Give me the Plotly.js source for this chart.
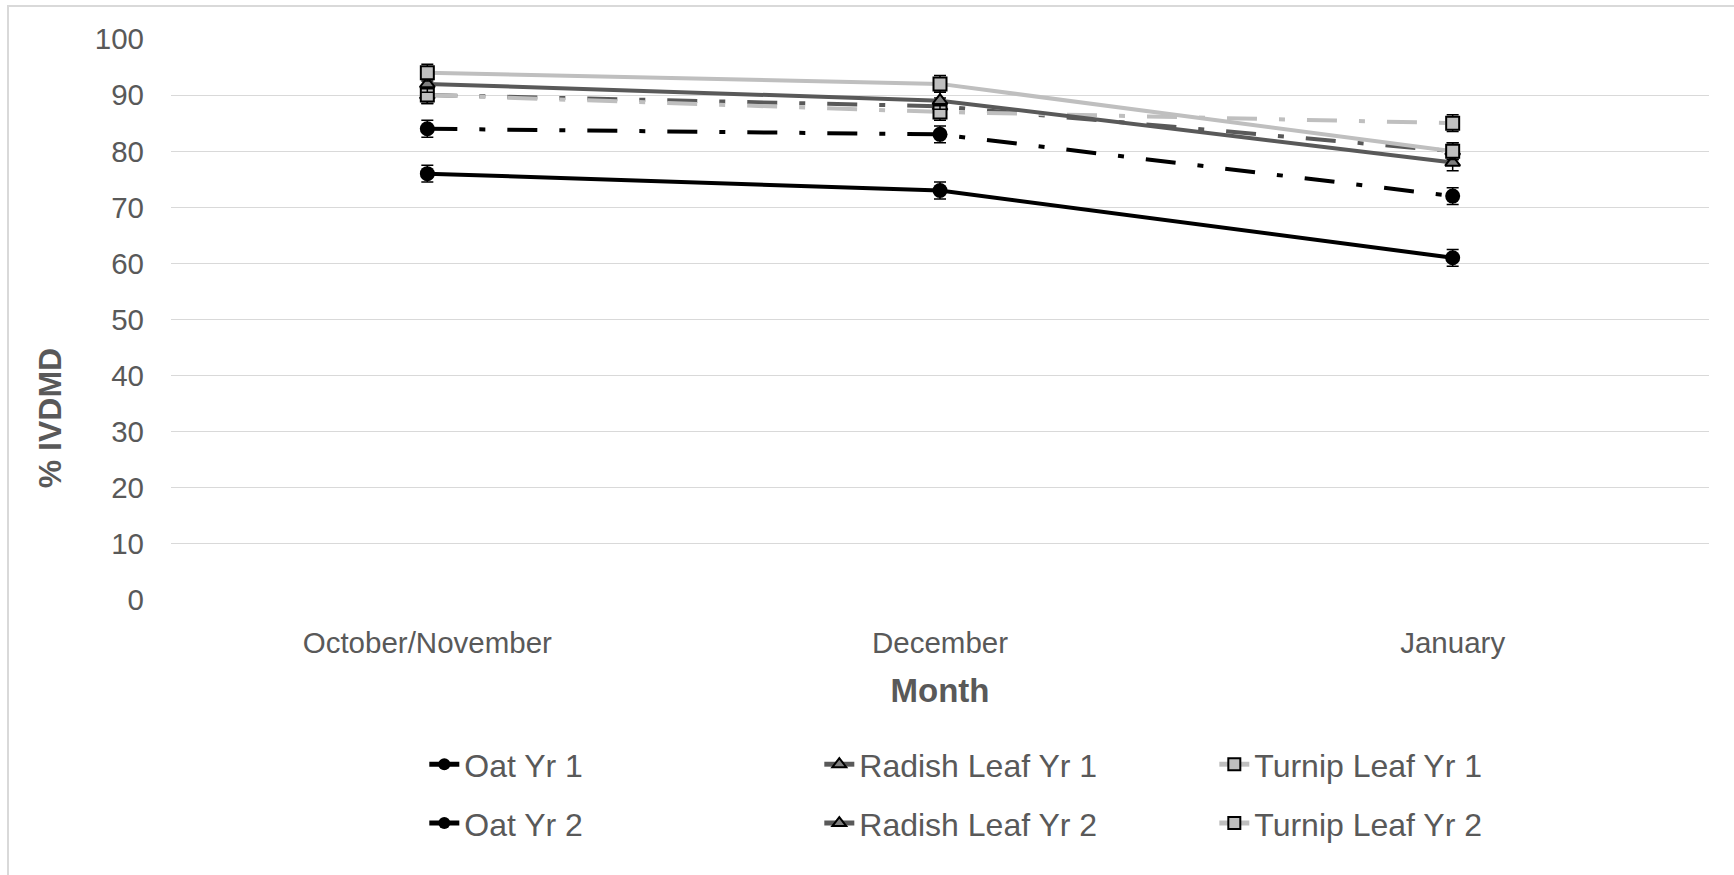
<!DOCTYPE html>
<html>
<head>
<meta charset="utf-8">
<script src="https://cdn.plot.ly/plotly-3.0.1.min.js"></script>
<style>
  html, body { margin: 0; padding: 0; background: #fff; }
  #wrap { position: relative; width: 1734px; height: 875px; overflow: hidden; }
  #chart { position: absolute; left: 0; top: 0; width: 1734px; height: 875px; }
  #frame { position: absolute; left: 7px; top: 5px; width: 1740px; height: 880px;
           border-top: 2px solid #d9d9d9; border-left: 2px solid #d9d9d9; pointer-events: none; }
</style>
</head>
<body>
<div id="wrap">
  <div id="chart"></div>
  <div id="frame"></div>
</div>
<script>
// ---- data ----
const months = ["October/November", "December", "January"];
const oatYr1 = [84, 83, 72];
const oatYr2 = [76, 73, 61];
const radishYr1 = [90, 88, 80];
const radishYr2 = [92, 89, 78];
const turnipYr1 = [90, 87, 85];
const turnipYr2 = [94, 92, 80];
const errOat1 = [1.5, 1.5, 1.5];
const errOat2 = [1.5, 1.5, 1.5];
const errRad1 = [1.5, 1.5, 1.5];
const errRad2 = [1.5, 1.5, 1.5];
const errTur1 = [1.5, 1.5, 1.5];
const errTur2 = [1.5, 1.5, 1.5];
const names = ["Oat Yr 1", "Radish Leaf Yr 1", "Turnip Leaf Yr 1", "Oat Yr 2", "Radish Leaf Yr 2", "Turnip Leaf Yr 2"];
const yTitle = "% IVDMD";
const xTitle = "Month";

const dashDot = "30px,22px,6px,22px";
function eb(arr) {
  return { type: "data", array: arr, visible: true, color: "#000", thickness: 1.5, width: 6 };
}
function tr(name, y, err, lineColor, dash, symbol, mfill, msize, leg) {
  return {
    type: "scatter", mode: "lines+markers", x: months, y: y, name: name, legend: leg,
    line: { color: lineColor, width: 4, dash: dash },
    marker: { symbol: symbol, color: mfill, size: msize, line: { color: "#000", width: symbol === "circle" ? 0 : 2 } },
    error_y: eb(err), hoverinfo: "skip"
  };
}
const data = [
  tr(names[0], oatYr1, errOat1, "#000000", dashDot, "circle", "#000000", 15, "legend"),
  tr(names[1], radishYr1, errRad1, "#595959", dashDot, "triangle-up", "#7f7f7f", 13, "legend"),
  tr(names[2], turnipYr1, errTur1, "#bfbfbf", dashDot, "square", "#bfbfbf", 13, "legend"),
  tr(names[3], oatYr2, errOat2, "#000000", "solid", "circle", "#000000", 15, "legend2"),
  tr(names[4], radishYr2, errRad2, "#595959", "solid", "triangle-up", "#7f7f7f", 13, "legend2"),
  tr(names[5], turnipYr2, errTur2, "#bfbfbf", "solid", "square", "#bfbfbf", 13, "legend2")
];

const txt = "#595959";
const fam = "Liberation Sans, Arial, sans-serif";
const legBase = {
  orientation: "h", x: 0.1647, xanchor: "left", yanchor: "top",
  font: { size: 32, color: txt, family: fam }, entrywidth: 350, entrywidthmode: "pixels",
  itemsizing: "constant", bgcolor: "rgba(0,0,0,0)"
};
const layout = {
  width: 1734, height: 875,
  margin: { l: 171, r: 25, t: 39, b: 275 },
  paper_bgcolor: "rgba(0,0,0,0)", plot_bgcolor: "#fff",
  font: { family: fam, color: txt, size: 29 },
  xaxis: {
    type: "category", range: [-0.5, 2.5], showgrid: false, showline: false, zeroline: false,
    ticks: "", tickfont: { size: 29.5, color: txt }, ticklabelstandoff: 22,
    title: { text: xTitle, font: { size: 33, color: txt, family: fam, weight: "bold" }, standoff: 21 }
  },
  yaxis: {
    range: [0, 100], dtick: 10, tick0: 0, showgrid: true, gridcolor: "#d9d9d9", gridwidth: 1,
    zeroline: false, showline: false, ticks: "", tickfont: { size: 29.5, color: txt },
    ticklabelstandoff: 26
  },
  annotations: [{
    text: yTitle, textangle: -90, xref: "paper", yref: "paper", x: 0, y: 0.324,
    xanchor: "center", yanchor: "middle", xshift: -121, showarrow: false,
    font: { size: 32, color: txt, family: fam, weight: "bold" }
  }],
  showlegend: true,
  legend: Object.assign({}, legBase, { y: -0.244 }),
  legend2: Object.assign({}, legBase, { y: -0.349 })
};
Plotly.newPlot("chart", data, layout, { displayModeBar: false, staticPlot: true });
</script>
</body>
</html>
